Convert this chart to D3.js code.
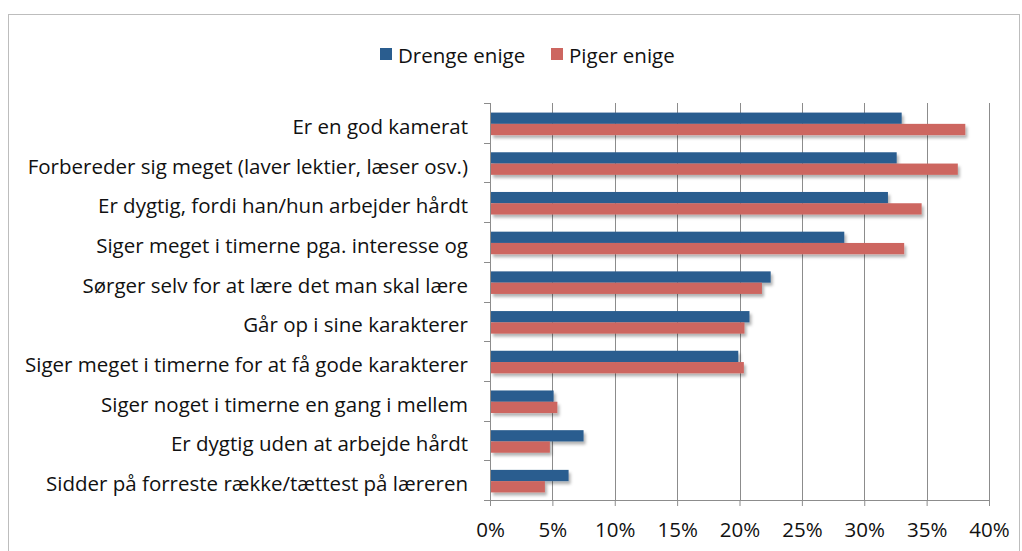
<!DOCTYPE html>
<html>
<head>
<meta charset="utf-8">
<script src="https://cdn.jsdelivr.net/npm/d3@7"></script>
<style>
  body { margin: 0; background: #fff; }
  svg { display: block; font-family: "Open Sans", Lato, sans-serif; }
</style>
</head>
<body>
<div id="chart"></div>
<script>
const categories = [
  'Er en god kamerat',
  'Forbereder sig meget (laver lektier, læser osv.)',
  'Er dygtig, fordi han/hun arbejder hårdt',
  'Siger meget i timerne pga. interesse og',
  'Sørger selv for at lære det man skal lære',
  'Går op i sine karakterer',
  'Siger meget i timerne for at få gode karakterer',
  'Siger noget i timerne en gang i mellem',
  'Er dygtig uden at arbejde hårdt',
  'Sidder på forreste række/tættest på læreren'
]
const drenge = [0.33, 0.326, 0.319, 0.284, 0.225, 0.208, 0.199, 0.051, 0.075, 0.063]
const piger = [0.381, 0.375, 0.346, 0.332, 0.218, 0.204, 0.2035, 0.054, 0.048, 0.044]
const seriesNames = ['Drenge enige', 'Piger enige']
const xTicks = [0, 0.05, 0.1, 0.15, 0.2, 0.25, 0.3, 0.35, 0.4]

const COLORS = ['#2a5d8f', '#cd6660']
const GRID = '#8c8c8c'
const FS = 20.5

const W = 1022, H = 551
const margin = { top: 103, right: 33, bottom: 51, left: 490 }

const svg = d3.select('#chart').append('svg')
  .attr('width', W)
  .attr('height', H)

// soft drop shadow under bars
const defs = svg.append('defs')
defs.append('filter')
  .attr('id', 'shadow')
  .attr('x', '-5%').attr('y', '-30%').attr('width', '115%').attr('height', '190%')
  .append('feDropShadow')
  .attr('dx', 2).attr('dy', 3)
  .attr('stdDeviation', 1.6)
  .attr('flood-color', '#000')
  .attr('flood-opacity', 0.3)

// outer frame
svg.append('rect')
  .attr('x', 8.5).attr('y', 14.5)
  .attr('width', 1011).attr('height', 560)
  .attr('fill', 'none')
  .attr('stroke', '#bdbdbd')

const x = d3.scaleLinear()
  .domain([0, 0.4])
  .range([margin.left, W - margin.right])

const y = d3.scaleBand()
  .domain(categories)
  .range([margin.top, H - margin.bottom])

const inner = d3.scaleBand()
  .domain(seriesNames)
  .range([0, y.bandwidth()])
  .paddingOuter(0.76)

// vertical gridlines
svg.append('g')
  .selectAll('line')
  .data(xTicks.slice(1))
  .join('line')
  .attr('x1', d => Math.round(x(d)) + 0.5)
  .attr('x2', d => Math.round(x(d)) + 0.5)
  .attr('y1', margin.top)
  .attr('y2', H - margin.bottom)
  .attr('stroke', GRID)

// bottom axis
const xAxis = svg.append('g')
  .attr('transform', `translate(0,${H - margin.bottom})`)
  .call(d3.axisBottom(x).tickValues(xTicks).tickFormat(d3.format('.0%')).tickSize(6).tickPadding(16))
xAxis.select('.domain').attr('stroke', GRID)
xAxis.selectAll('.tick line').attr('stroke', GRID)
xAxis.selectAll('.tick text')
  .attr('font-size', FS)
  .attr('fill', '#111')
  .attr('font-family', '"Open Sans", sans-serif')

// left category axis (ticks between categories)
const yAxisG = svg.append('g')
yAxisG.append('line')
  .attr('x1', margin.left + 0.5).attr('x2', margin.left + 0.5)
  .attr('y1', margin.top).attr('y2', H - margin.bottom)
  .attr('stroke', GRID)
yAxisG.selectAll('line.tk')
  .data(d3.range(categories.length + 1))
  .join('line')
  .attr('class', 'tk')
  .attr('x1', margin.left - 6).attr('x2', margin.left)
  .attr('y1', i => Math.round(margin.top + i * y.step()) + 0.5)
  .attr('y2', i => Math.round(margin.top + i * y.step()) + 0.5)
  .attr('stroke', GRID)

// category labels
svg.append('g')
  .selectAll('text')
  .data(categories)
  .join('text')
  .attr('x', margin.left - 22)
  .attr('y', d => y(d) + y.bandwidth() / 2 + 3)
  .attr('text-anchor', 'end')
  .attr('dominant-baseline', 'central')
  .attr('font-size', FS)
  .attr('fill', '#111')
  .text(d => d)

// bars
const rows = categories.map((c, i) => ({ c, vals: [drenge[i], piger[i]] }))
const groups = svg.append('g')
  .selectAll('g')
  .data(rows)
  .join('g')
  .attr('transform', d => `translate(0,${y(d.c) + 1})`)

groups.selectAll('rect')
  .data(d => d.vals.map((v, j) => ({ v, s: seriesNames[j], j })))
  .join('rect')
  .attr('x', x(0) + 1)
  .attr('y', d => inner(d.s))
  .attr('height', inner.bandwidth())
  .attr('width', d => x(d.v) - x(0) - 1)
  .attr('fill', d => COLORS[d.j])
  .attr('filter', 'url(#shadow)')

// legend
const legend = svg.append('g').attr('transform', 'translate(380,48)')
const legendX = [0, 171]
seriesNames.forEach((name, j) => {
  const g = legend.append('g').attr('transform', `translate(${legendX[j]},0)`)
  g.append('rect')
    .attr('width', 12).attr('height', 12)
    .attr('fill', COLORS[j])
  g.append('text')
    .attr('x', 18).attr('y', 7)
    .attr('dominant-baseline', 'central')
    .attr('font-size', FS)
    .attr('fill', '#111')
    .text(name)
})
</script>
</body>
</html>
